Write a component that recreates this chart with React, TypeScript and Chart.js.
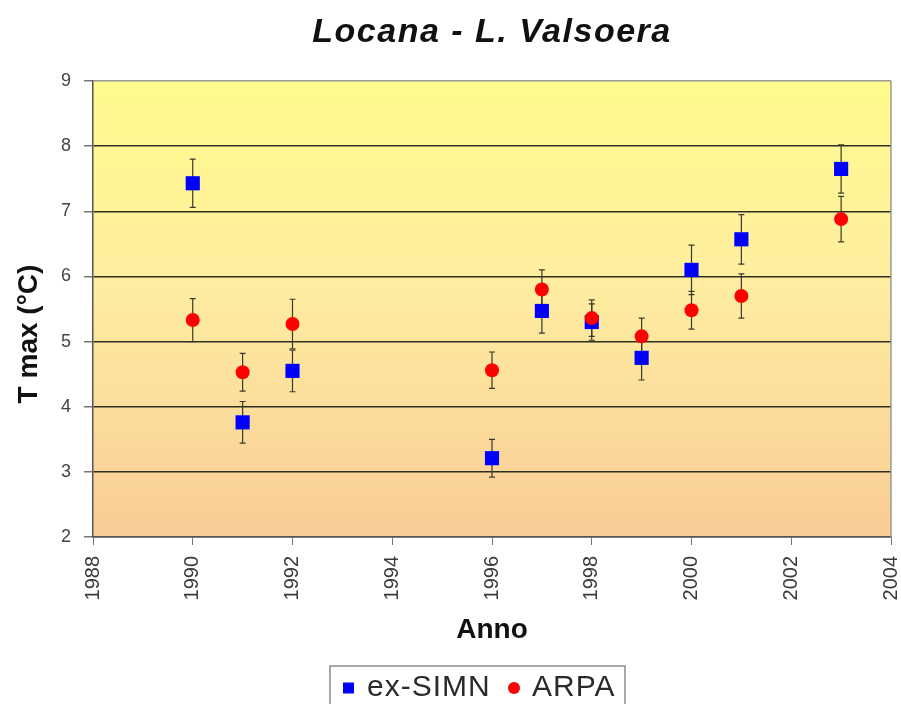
import React, { useEffect, useRef } from 'react';
import { Chart, registerables } from 'chart.js';

Chart.register(...registerables);

const titleText = 'Locana - L. Valsoera';
const xTitle = 'Anno';
const yTitle = 'T max (°C)';

const years = [1990, 1991, 1992, 1996, 1997, 1998, 1999, 2000, 2001, 2003];
const simnValues = [7.43, 3.76, 4.55, 3.21, 5.47, 5.3, 4.75, 6.1, 6.57, 7.65];
const simnErrors = [0.37, 0.32, 0.32, 0.29, 0.34, 0.28, 0.34, 0.38, 0.38, 0.37];
const arpaValues = [5.33, 4.53, 5.27, 4.56, 5.8, 5.36, 5.08, 5.48, 5.7, 6.88];
const arpaErrors = [0.33, 0.29, 0.38, 0.28, 0.3, 0.28, 0.28, 0.29, 0.34, 0.35];

const seriesNames = ['ex-SIMN', 'ARPA'];
const xMin = 1988;
const xMax = 2004;
const xStep = 2;
const yMin = 2;
const yMax = 9;
const yStep = 1;

const FONT = "'Liberation Sans', Arial, sans-serif";

const bgPlugin = {
  id: 'bgPlugin',
  beforeDraw(chart: any) {
    const { ctx, chartArea: a } = chart;
    if (!a) return;
    const g = ctx.createLinearGradient(0, a.top, 0, a.bottom);
    g.addColorStop(0, '#FFFB8C');
    g.addColorStop(0.45, '#FEEDA0');
    g.addColorStop(1, '#F9CC96');
    ctx.save();
    ctx.fillStyle = g;
    ctx.fillRect(a.left, a.top, a.right - a.left, a.bottom - a.top);
    ctx.restore();
  },
};

const errorBarPlugin = {
  id: 'errorBarPlugin',
  beforeDatasetsDraw(chart: any) {
    const { ctx, scales } = chart;
    const xs = scales.x;
    const ys = scales.y;
    const sets = [
      { v: simnValues, e: simnErrors },
      { v: arpaValues, e: arpaErrors },
    ];
    ctx.save();
    ctx.strokeStyle = '#3a3a28';
    ctx.lineWidth = 1.2;
    sets.forEach((s) => {
      years.forEach((yr, i) => {
        const x = xs.getPixelForValue(yr);
        const y1 = ys.getPixelForValue(s.v[i] + s.e[i]);
        const y2 = ys.getPixelForValue(s.v[i] - s.e[i]);
        ctx.beginPath();
        ctx.moveTo(x, y1);
        ctx.lineTo(x, y2);
        ctx.moveTo(x - 3, y1);
        ctx.lineTo(x + 3, y1);
        ctx.moveTo(x - 3, y2);
        ctx.lineTo(x + 3, y2);
        ctx.stroke();
      });
    });
    ctx.restore();
  },
};

const decorPlugin = {
  id: 'decorPlugin',
  afterDraw(chart: any) {
    const { ctx, chartArea: a } = chart;
    const cx = (a.left + a.right) / 2;
    ctx.save();
    // right border
    ctx.strokeStyle = '#9a9a9a';
    ctx.lineWidth = 1.5;
    ctx.beginPath();
    ctx.moveTo(a.right, a.top);
    ctx.lineTo(a.right, a.bottom);
    ctx.stroke();

    // title
    ctx.fillStyle = '#111';
    ctx.textAlign = 'center';
    ctx.textBaseline = 'middle';
    ctx.font = `italic bold 34px ${FONT}`;
    (ctx as any).letterSpacing = '1.5px';
    ctx.fillText(titleText, cx, 33);
    (ctx as any).letterSpacing = '0px';

    // x title
    ctx.font = `bold 28px ${FONT}`;
    ctx.fillText(xTitle, cx, 630);

    // y title
    ctx.save();
    ctx.translate(29, 334);
    ctx.rotate(-Math.PI / 2);
    ctx.fillText(yTitle, 0, 0);
    ctx.restore();

    // legend
    const lx = 330, lt = 666, lw = 295;
    ctx.strokeStyle = '#8a8a8a';
    ctx.lineWidth = 1.5;
    ctx.strokeRect(lx, lt, lw, 60);
    const ly = 688;
    ctx.fillStyle = '#0000FF';
    ctx.fillRect(343, ly - 5.5, 11, 11);
    ctx.fillStyle = '#FF0000';
    ctx.beginPath();
    ctx.arc(514, ly, 6, 0, Math.PI * 2);
    ctx.fill();
    ctx.fillStyle = '#2a2a2a';
    ctx.textAlign = 'left';
    ctx.font = `30px ${FONT}`;
    (ctx as any).letterSpacing = '1px';
    ctx.fillText(seriesNames[0], 367, ly);
    ctx.fillText(seriesNames[1], 532, ly);
    (ctx as any).letterSpacing = '0px';
    ctx.restore();
  },
};

export default function App() {
  const ref = useRef<HTMLCanvasElement | null>(null);

  useEffect(() => {
    if (!ref.current) return;
    const chart = new Chart(ref.current, {
      type: 'scatter',
      data: {
        datasets: [
          {
            label: seriesNames[0],
            data: years.map((x, i) => ({ x, y: simnValues[i] })),
            pointStyle: 'rect',
            pointRadius: 10,
            pointHoverRadius: 10,
            backgroundColor: '#0000FF',
            borderColor: '#0000FF',
            borderWidth: 0,
            order: 2,
          },
          {
            label: seriesNames[1],
            data: years.map((x, i) => ({ x, y: arpaValues[i] })),
            pointStyle: 'circle',
            pointRadius: 7,
            pointHoverRadius: 7,
            backgroundColor: '#FF0000',
            borderColor: '#FF0000',
            borderWidth: 0,
            order: 1,
          },
        ],
      },
      options: {
        animation: false,
        responsive: false,
        devicePixelRatio: 1,
        layout: { padding: { top: 81, right: 8, bottom: 0, left: 0 } },
        plugins: {
          legend: { display: false },
          title: { display: false },
          tooltip: { enabled: false },
        },
        scales: {
          x: {
            type: 'linear',
            min: xMin,
            max: xMax,
            afterFit(s: any) {
              s.height = 167;
              s.paddingLeft = 0;
              s.paddingRight = 0;
            },
            ticks: {
              stepSize: xStep,
              minRotation: 90,
              maxRotation: 90,
              padding: 11,
              color: '#3a3a3a',
              font: { family: FONT, size: 20 },
              callback: (v: any) => String(v),
            },
            grid: {
              drawOnChartArea: false,
              drawTicks: true,
              tickLength: 8,
              tickColor: '#777',
            },
            border: { display: true, color: '#555', width: 1.5 },
          },
          y: {
            min: yMin,
            max: yMax,
            afterFit(s: any) {
              s.width = 93;
              s.paddingTop = 0;
              s.paddingBottom = 0;
            },
            ticks: {
              stepSize: yStep,
              padding: 13,
              color: '#444',
              font: { family: FONT, size: 18 },
              callback: (v: any) => String(v),
            },
            grid: {
              color: (c: any) =>
                c.tick && c.tick.value === yMax ? '#9a9a9a' : c.tick && c.tick.value === yMin ? '#555' : '#2e2e22',
              lineWidth: 1.5,
              drawTicks: true,
              tickLength: 9,
              tickColor: '#777',
            },
            border: { display: true, color: '#555', width: 1.5 },
          },
        },
      },
      plugins: [bgPlugin, errorBarPlugin, decorPlugin],
    } as any);
    return () => chart.destroy();
  }, []);

  return (
    <div style={{ position: 'absolute', left: 0, top: 0, width: 901, height: 704, background: '#fff' }}>
      <canvas ref={ref} width={901} height={704} style={{ width: 901, height: 704, display: 'block' }} />
    </div>
  );
}
